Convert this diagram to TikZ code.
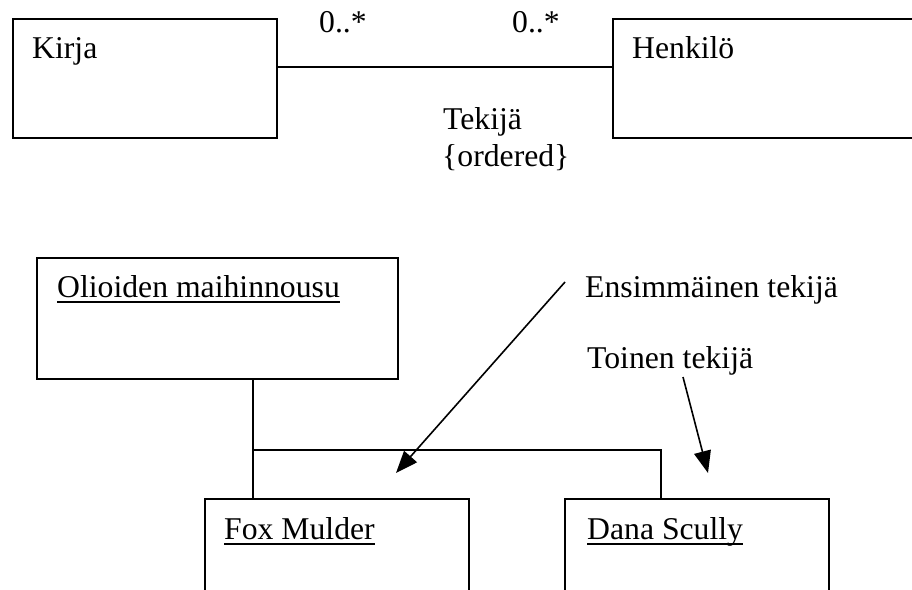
\documentclass[tikz,border=0pt]{standalone}
\usepackage{fontspec}
\setmainfont{Liberation Serif}
\usetikzlibrary{arrows.meta}
\tikzset{
  box/.style={draw, line width=2pt, inner sep=0pt},
  txt/.style={inner sep=0pt, anchor=base west, font=\fontsize{31.7}{38}\selectfont},
  conn/.style={line width=2pt},
  ptr/.style={line width=1.6pt, -{Triangle[length=22pt,width=17pt]}},
  uline/.style={line width=2pt}
}
\begin{document}
\begin{tikzpicture}[x=1pt,y=-1pt]
\useasboundingbox (0,0) rectangle (912,589);
\clip (0,0) rectangle (912,589);
% upper class diagram
\node[box, minimum width=264.3pt, minimum height=119.3pt, anchor=north west] (kirja) at (11.7,17.7) {};
\node[box, minimum width=310pt, minimum height=119.3pt, anchor=north west] (henkilo) at (612,17.7) {};
\node[txt] (kirjat) at (32,58) {Kirja};
\node[txt] (henkilot) at (632,58) {Henkilö};
\draw[conn] ([yshift=11.6pt]kirja.east) -- ([yshift=11.6pt]henkilo.west);
\node[txt] (m1) at (319,32) {0..*};
\node[txt] (m2) at (512,32) {0..*};
\node[txt] (tek) at (443,129) {Tekijä};
\node[txt] (ord) at (442,166) {\{ordered\}};
% lower object diagram
\node[box, minimum width=361pt, minimum height=121pt, anchor=north west] (olio) at (36,257) {};
\node[box, minimum width=264pt, minimum height=120pt, anchor=north west] (fox) at (204,498) {};
\node[box, minimum width=264pt, minimum height=120pt, anchor=north west] (dana) at (564,498) {};
\node[txt] (oliot) at (57,297) {Olioiden maihinnousu};
\node[txt] (foxt) at (224,539) {Fox Mulder};
\node[txt] (danat) at (587,539) {Dana Scully};
\draw[uline] ([yshift=-5pt]oliot.base west) -- ([yshift=-5pt]oliot.base east);
\draw[uline] ([yshift=-4.5pt]foxt.base west) -- ([yshift=-4.5pt]foxt.base east);
\draw[uline] ([yshift=-4.5pt]danat.base west) -- ([yshift=-4.5pt]danat.base east);
\coordinate (j1) at (252.5,450);
\coordinate (j2) at (660.5,450);
\draw[conn] (olio.south -| j1) -- (fox.north -| j1);
\draw[conn] (j1) -- (j2) -- (dana.north -| j2);
% annotations
\node[txt] (ens) at (585,297) {Ensimmäinen tekijä};
\node[txt] (toi) at (587,368) {Toinen tekijä};
\coordinate (e1) at (565,282);
\coordinate (e2) at (396,473);
\coordinate (t1) at (683,377);
\coordinate (t2) at (708,473);
\draw[ptr] (e1) -- (e2);
\draw[ptr] (t1) -- (t2);
\end{tikzpicture}
\end{document}
